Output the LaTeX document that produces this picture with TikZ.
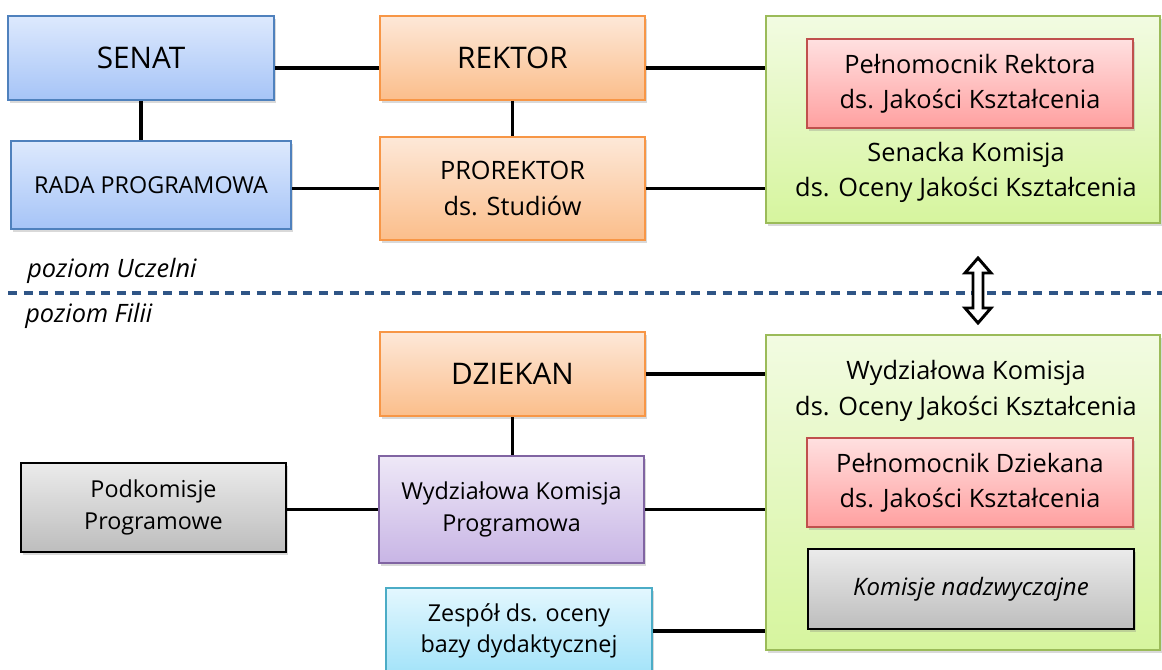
\documentclass[tikz,border=0pt]{standalone}
\usepackage{fontspec}
\setmainfont{Open Sans}
\usetikzlibrary{shadows,calc}
\definecolor{blueline}{HTML}{4F81BD}
\definecolor{bluetop}{HTML}{DDE9FD}
\definecolor{bluebot}{HTML}{A6C4F7}
\definecolor{orangeline}{HTML}{F79646}
\definecolor{orangetop}{HTML}{FDE8D8}
\definecolor{orangebot}{HTML}{FBBE8B}
\definecolor{greenline}{HTML}{9BBB59}
\definecolor{greentop}{HTML}{F2FBE2}
\definecolor{greenbot}{HTML}{D6F59E}
\definecolor{redline}{HTML}{C0504D}
\definecolor{redtop}{HTML}{FFE0E0}
\definecolor{redbot}{HTML}{FFA0A0}
\definecolor{graytop}{HTML}{EBEBEB}
\definecolor{graybot}{HTML}{BDBDBD}
\definecolor{violetline}{HTML}{8064A2}
\definecolor{violettop}{HTML}{EEE8F7}
\definecolor{violetbot}{HTML}{C8B5E5}
\definecolor{cyanline}{HTML}{4BACC6}
\definecolor{cyantop}{HTML}{E3F7FE}
\definecolor{cyanbot}{HTML}{A3E3F9}
\definecolor{levelblue}{HTML}{2F5586}
\def\pxlen{0.75pt}
\tikzset{
  orgbox/.style n args={3}{
    rectangle,
    line width=1.5pt,
    draw=#1,
    top color=#2,
    bottom color=#3,
    drop shadow={opacity=0.3, shadow xshift=1.5pt, shadow yshift=-2.2pt},
    inner sep=0pt,
    align=center,
  },
  boxsize/.style 2 args={minimum width=#1*\pxlen, minimum height=#2*\pxlen},
}
\tikzset{
  senatnode/.style={orgbox={blueline}{bluetop}{bluebot}},
  rektornode/.style={orgbox={orangeline}{orangetop}{orangebot}},
  komnode/.style={orgbox={greenline}{greentop}{greenbot}},
  pelnnode/.style={orgbox={redline}{redtop}{redbot}},
  subnode/.style={orgbox={black}{graytop}{graybot}, line width=1.8pt},
  progrnode/.style={orgbox={violetline}{violettop}{violetbot}},
  bazanode/.style={orgbox={cyanline}{cyantop}{cyanbot}},
  bigtxt/.style={font=\fontsize{22.3}{26}\selectfont},
  midtxt/.style={font=\fontsize{19}{26.5}\selectfont},
  smalltxt/.style={font=\fontsize{17.5}{23.5}\selectfont},
  leveltxt/.style={font=\fontsize{19}{22}\selectfont\itshape, inner sep=0pt, anchor=base west},
  conn/.style={line width=2.5pt, black},
}

\begin{document}
\begin{tikzpicture}[x=0.75pt, y=-0.75pt]
    \useasboundingbox (0,0) rectangle (1162,670);

    %% Uczelnia
    \node[senatnode, boxsize={266}{84}, bigtxt] (senat) at (141,58) {SENAT};
    \node[senatnode, boxsize={280}{88}, smalltxt] (rada) at (151,185) {RADA PROGRAMOWA};
    \node[rektornode, boxsize={265}{84}, bigtxt] (rektor) at (512.5,58) {REKTOR};
    \node[rektornode, boxsize={265}{103}, midtxt] (prorektor) at (512.5,188.5) {PROREKTOR\\ds. Studiów};
    \node[komnode, boxsize={394}{207}] (senacka) at (963,119.5) {};
    \node[pelnnode, boxsize={326}{89}, midtxt] (pelnrektor) at (970,83.5) {Pełnomocnik Rektora\\ds. Jakości Kształcenia};
    \node[midtxt, align=center, inner sep=0pt] (senackatxt) at (966,172.5) {Senacka Komisja\\ds. Oceny Jakości Kształcenia};

    \draw[conn] ([yshift=-7.5pt]senat.east) -- ([yshift=-7.5pt]rektor.west);
    \draw[conn] ([yshift=-7.5pt]rektor.east) -- ([yshift=-7.5pt]rektor.east -| senacka.west);
    \draw[conn] (senat.south) -- (senat.south |- rada.north);
    \draw[conn] (rektor.south) -- (rektor.south |- prorektor.north);
    \draw[conn] (prorektor.west -| rada.east) -- (prorektor.west);
    \draw[conn] (prorektor.east) -- (prorektor.east -| senacka.west);

    %% Levels
    \coordinate (lineL) at (8,293);
    \coordinate (lineR) at (1162,293);
    \draw[line width=2.5pt, levelblue, dash pattern=on 6.75pt off 4.9pt] (lineL) -- (lineR);
    \node[leveltxt] (uczelnia) at (27,277) {poziom Uczelni};
    \node[leveltxt] (filia) at (25,322) {poziom Filii};

    % double arrow
    \coordinate (updown) at (978,290.5);
    \draw[line width=2.2pt, fill=white, line join=miter] (updown) ++(0,-32.5) -- ++(13,15) -- ++(-8,0) -- ++(0,35) -- ++(8,0)
      -- ++(-13,15) -- ++(-13,-15) -- ++(8,0) -- ++(0,-35) -- ++(-8,0) -- cycle;

    %% Filia
    \node[rektornode, boxsize={265}{84}, bigtxt] (dziekan) at (512.5,374) {DZIEKAN};
    \node[progrnode, boxsize={265}{107}, smalltxt] (wkp) at (511.5,509.5) {Wydziałowa Komisja\\Programowa};
    \node[subnode, boxsize={265}{89}, smalltxt] (podkom) at (153.5,507.5) {Podkomisje\\Programowe};
    \node[bazanode, boxsize={266}{86}, smalltxt] (zespol) at (519,631) {Zespół ds. oceny\\bazy dydaktycznej};
    \node[komnode, boxsize={394}{315}] (wydzial) at (963,492.5) {};
    \node[midtxt, align=center, inner sep=0pt] (wydzialtxt) at (966,391) {Wydziałowa Komisja\\ds. Oceny Jakości Kształcenia};
    \node[pelnnode, boxsize={326}{89}, midtxt] (pelndziekan) at (970,482.5) {Pełnomocnik Dziekana\\ds. Jakości Kształcenia};
    \node[subnode, boxsize={326}{80}, font=\fontsize{18}{23.5}\selectfont\itshape] (nadzw) at (971,589) {Komisje nadzwyczajne};

    \draw[conn] (dziekan.east) -- (dziekan.east -| wydzial.west);
    \draw[conn] (dziekan.south) -- (dziekan.south |- wkp.north);
    \draw[conn] (wkp.west -| podkom.east) -- (wkp.west);
    \draw[conn] (wkp.east) -- (wkp.east -| wydzial.west);
    \draw[conn] (zespol.east) -- (zespol.east -| wydzial.west);
\end{tikzpicture}
\end{document}
